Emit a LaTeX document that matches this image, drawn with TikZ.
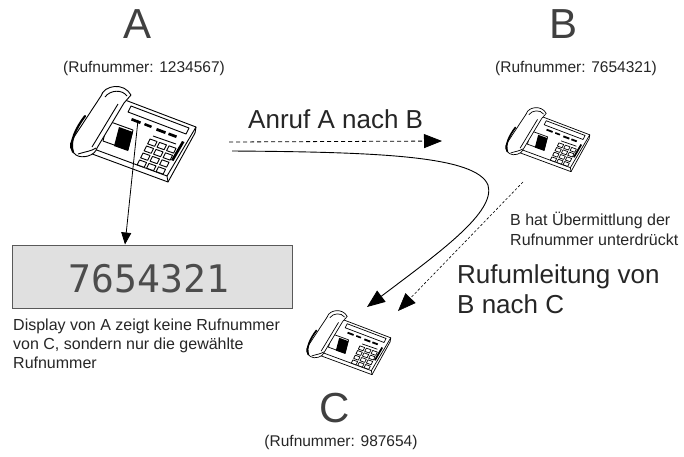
\documentclass[tikz,border=0pt]{standalone}
\usepackage{fontspec}
\setmainfont{Liberation Sans}
\newfontfamily\dotfont{DejaVu Sans Mono}
\usetikzlibrary{arrows.meta}
\definecolor{txt}{gray}{0.15}
\definecolor{dispfill}{gray}{0.88}
\definecolor{dispborder}{gray}{0.35}
\tikzset{
 lbl/.style={inner sep=0pt, text=txt},
 big/.style={lbl, text=black!75, font=\fontsize{42}{42}\selectfont},
 med/.style={lbl, font=\fontsize{26}{30}\selectfont},
 small/.style={lbl, font=\fontsize{15.5}{19}\selectfont},
 smallb/.style={lbl, font=\fontsize{16}{19}\selectfont},
 arr/.style={-{Triangle[length=18pt,width=14pt]}, line width=0.8pt},
}
\newcommand\phoneat[4]{%
\begin{scope}[shift={(#1,#2)},scale=#3]
\begin{scope}[shift={(-65,-84)},line width=#4pt,line join=round]
\pgfmathsetmacro\cordw{2.4*#4}
% base and top face
\filldraw[fill=white] (104,92) -- (196,127) -- (195,133) -- (168,182) -- (76,148) -- (75,142) -- cycle;
\draw (196,127) -- (167,176) -- (75,142);
\draw (167,176) -- (168,182);
% display
\filldraw[fill=white] (131,106) -- (189,128) -- (186,134) -- (128,112) -- cycle;
% function keys
\fill (132,118) -- (141,121.5) -- (140,124) -- (131,120.5) -- cycle;
\fill (145,123) -- (152,125.7) -- (151,128) -- (144,125.3) -- cycle;
\fill (157,128) -- (166,131.4) -- (165,134) -- (156,130.6) -- cycle;
\fill (169,132.5) -- (177,135.5) -- (176,138) -- (168,135) -- cycle;
\draw (153,136) -- (176,144);
% keypad
\foreach \i in {0,1,2}{\foreach \j in {0,1,2,3}{%
 \pgfmathsetmacro\kx{150+9.5*\i-3.5*\j}
 \pgfmathsetmacro\ky{139+3.4*\i+7*\j}
 \filldraw[fill=white] (\kx,\ky) -- ({\kx+7},{\ky+2.5}) -- ({\kx+4.6},{\ky+7.3}) -- ({\kx-2.4},{\ky+4.8}) -- cycle;
}}
% side bar
\fill (182,141) -- (184.5,142) -- (173.5,161) -- (171,160) -- cycle;
% cradle
\draw (108,121) -- (133,130) -- (128,150) -- (103,141) -- cycle;
\fill (119,127) -- (133,132) -- (128,151) -- (114,146) -- cycle;
% handset
\filldraw[fill=white] (101,96) .. controls (104,85) and (124,82) .. (131,95) -- (124,103) -- (97,148) .. controls (95,156) and (82,159) .. (76,155) .. controls (70,150) and (69,145) .. (72,140) -- cycle;
\draw (105,97) .. controls (110,90) and (122,89) .. (127,96);
\draw (118,104) -- (92,147);
\draw[line width=\cordw pt, line cap=round] (85,116) .. controls (76,128) and (69,142) .. (73,152);
\draw (78,154) .. controls (84,152) and (92,151) .. (96,148);
\end{scope}
\end{scope}}
\begin{document}
\begin{tikzpicture}[x=1pt,y=-1pt]
\useasboundingbox (0,0) rectangle (684,456);
\fill[white] (0,0) rectangle (684,456);
% phones
\phoneat{65}{84}{1}{0.9}
\phoneat{502}{106}{0.67}{0.7}
\phoneat{303}{309}{0.67}{0.7}
% labels
\node[big, anchor=base] (lA) at (138,38) {A};
\node[small, anchor=base] (nA) at (144,72) {(Rufnummer: 1234567)};
\node[big, anchor=base] (lB) at (563,38) {B};
\node[small, anchor=base] (nB) at (576,72) {(Rufnummer: 7654321)};
\node[med, anchor=base west] (anruf) at (248,128) {Anruf A nach B};
\node[smallb, anchor=base west] (hat1) at (510,225) {B hat Übermittlung der};
\node[smallb, anchor=base west] (hat2) at (510,245) {Rufnummer unterdrückt};
\node[med, anchor=base west] (uml1) at (457,283) {Rufumleitung von};
\node[med, anchor=base west] (uml2) at (457,313) {B nach C};
\node[smallb, anchor=base west] (d1) at (13,330) {Display von A zeigt keine Rufnummer};
\node[smallb, anchor=base west] (d2) at (13,349) {von C, sondern nur die gewählte};
\node[smallb, anchor=base west] (d3) at (13,368) {Rufnummer};
\node[big, anchor=base] (lC) at (335,422) {C};
\node[small, anchor=base] (nC) at (341,446) {(Rufnummer: 987654)};
% display
\node[draw=dispborder, fill=dispfill, line width=1pt, minimum width=280pt, minimum height=63pt, inner sep=0pt] (disp) at (152,276.5) {};
\node[inner sep=0pt, anchor=base, text=black!70, font=\dotfont\fontsize{38}{38}\selectfont] (digits) at (149,292) {7654321};
% connectors
\coordinate (aKey) at (138,120);
\coordinate (dTop) at (125,244.5);
\draw[line width=0.8pt, -{Triangle[length=12pt,width=10pt]}] (aKey) -- (dTop);
\coordinate (callS) at (229,142);
\coordinate (callE) at (442,141);
\draw[arr, dash pattern=on 4pt off 3pt] (callS) -- (callE);
\coordinate (curS) at (232,151);
\coordinate (curE) at (367,307);
\draw[arr, line width=0.9pt] (curS) .. controls (380,152) and (476,156) .. (488,185) .. controls (496,212) and (440,252) .. (curE);
\coordinate (dotS) at (523,182);
\coordinate (dotE) at (398,311);
\draw[arr, line width=0.6pt, dash pattern=on 2.5pt off 2pt] (dotS) -- (dotE);
\end{tikzpicture}
\end{document}
